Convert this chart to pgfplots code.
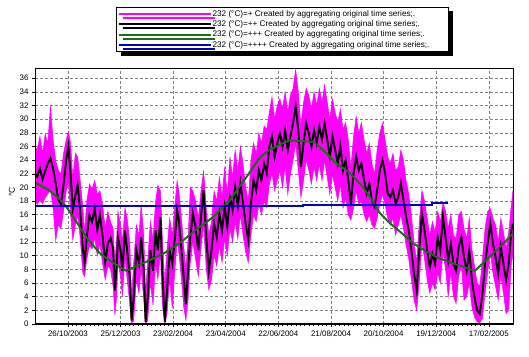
\documentclass[border=0pt]{standalone}
\usepackage{fontspec}
\setmainfont{Liberation Sans}
\usepackage{pgfplots}
\pgfplotsset{compat=1.18}
\usepackage{pgfplotstable}
\usepgfplotslibrary{fillbetween}
\usetikzlibrary{shadows}
\definecolor{dgreen}{RGB}{25,110,25}
\definecolor{dblue}{RGB}{0,0,190}
\definecolor{mag}{RGB}{255,0,255}

\pgfplotstableread{
d m up lo
-38 22.1 26.0 18.0
-35 21.6 25.5 17.5
-32 22.8 27.5 18.2
-29 21.2 25.0 17.6
-26 22.4 27.8 18.5
-23 23.5 26.5 19.0
-20 24.3 31.9 19.8
-17 22.8 27.0 17.0
-14 20.6 24.0 12.2
-11 18.2 22.5 14.5
-8 17.6 22.0 14.0
-5 20.5 25.0 16.5
-2 24.0 27.0 19.5
0.5 26.0 28.2 21.0
3 22.0 26.5 16.0
5.5 16.8 21.5 12.3
8.5 18.8 25.0 14.5
11 20.4 24.5 16.0
14 16.5 21.0 12.5
17 11.0 17.0 7.4
19 9.0 13.5 7.0
21.5 12.8 18.0 9.5
24.5 16.0 20.5 11.5
27.5 15.0 19.8 11.0
30.5 16.8 21.0 12.6
33.5 13.8 19.0 10.0
36.5 16.0 19.5 11.8
39.5 12.8 17.5 8.8
42.5 9.0 14.0 6.5
45.5 11.8 16.5 8.5
48.5 12.6 15.0 8.0
51.5 11.0 14.0 5.5
53.5 4.9 9.0 1.3
55.5 8.3 12.5 4.0
57 12.7 16.5 9.0
60 10.8 14.5 7.0
62 7.8 12.0 4.0
65 13.7 17.0 9.5
67.5 10.8 15.5 6.5
70.5 6.9 12.0 3.0
72.5 0.5 4.0 0
75 3.9 9.0 0.5
78 10.8 14.5 6.5
81 8.8 13.0 4.5
83.5 12.7 17.5 8.0
86.5 7.8 13.0 3.5
88.5 0.3 4.5 0
91 3.9 9.5 0.5
94 10.8 15.0 6.0
97 7.8 12.5 2.8
100 13.7 18.0 9.0
102.5 10.8 20.3 6.5
105.5 15.7 19.5 10.5
107.5 7.8 13.0 3.0
110.5 0.3 6.0 0
113 4.9 11.0 1.5
116 10.8 15.5 6.5
119 8.8 13.0 2.3
122 12.7 17.5 8.0
124.5 16.7 21.0 12.0
126.5 15.2 19.5 10.5
129.5 10.8 15.5 6.5
132 6.9 11.5 2.5
134.5 2.9 8.0 0.5
137 7.8 12.5 3.5
139.5 12.7 20.0 9.0
142.5 16.2 19.5 12.0
145.5 14.2 18.0 9.5
148.7 10.8 15.5 7.0
151.7 15.7 19.5 11.0
154.7 19.6 22.5 14.5
157.7 12.7 17.0 8.0
160.7 7.8 13.0 5.0
163.7 10.8 15.0 6.5
166.7 14.7 19.5 10.0
169.7 12.7 18.0 8.5
172.7 16.2 21.5 11.5
175.7 13.7 18.5 9.0
178.7 17.2 23.0 12.5
181.7 14.2 19.0 10.0
184.7 18.6 24.5 14.0
187.7 16.7 21.5 12.0
190.7 20.1 25.5 15.0
193.7 17.2 22.5 12.5
196.7 20.6 26.0 16.0
199.7 17.6 23.5 13.0
202.7 14.7 20.0 10.5
205.7 12.3 18.0 9.0
208.7 17.6 24.0 13.0
211.7 21.1 26.5 16.0
214.7 19.6 25.0 15.0
217.7 22.5 28.0 17.5
220.7 21.1 26.5 16.0
223.7 23.5 29.0 18.0
226.7 22.1 28.5 17.0
229.7 26.0 31.0 20.5
232.7 27.5 33.3 22.0
235.7 24.5 30.0 19.5
238.7 26.5 32.0 21.0
241.7 27.9 33.0 22.5
244.7 26.0 31.5 20.0
247.7 28.4 34.0 23.0
250.7 25.5 31.0 19.0
253.7 27.5 33.5 22.0
256.7 29.4 34.5 24.0
259.7 31.9 37.3 26.5
262.7 28.4 34.0 22.5
265.7 23.0 29.0 18.5
268.7 26.5 32.5 21.0
271.7 29.4 34.5 24.0
274.7 27.9 33.5 22.5
277.7 26.0 31.5 20.5
280.7 28.4 34.0 23.0
283.7 26.5 32.0 21.0
286.7 28.9 34.5 23.5
289.7 27.0 32.5 21.0
292.7 29.4 35.0 24.0
295.7 27.0 32.5 21.5
298.7 24.5 30.0 19.0
301.7 27.5 33.0 22.0
304.7 25.5 31.0 20.0
307.7 23.5 29.5 18.0
310.7 26.0 31.5 20.5
313.7 22.5 28.5 17.0
316.7 24.0 29.5 18.5
319.7 21.1 27.0 16.0
322.7 17.6 23.0 15.2
325.7 22.1 27.5 17.0
328.7 24.5 30.4 19.5
331.7 22.5 28.0 17.5
334.7 23.5 29.5 18.0
337.7 21.1 27.0 16.0
340.7 19.1 25.0 15.0
343.7 20.6 26.5 16.0
346.7 18.1 23.5 14.5
349.7 17.2 22.0 14.0
352.7 19.6 25.5 15.5
355.7 22.5 28.0 17.5
358.7 24.0 29.4 19.0
361.7 22.1 27.0 17.5
364.7 19.1 24.5 15.5
367.7 18.6 23.5 14.5
370.7 19.6 25.0 15.5
373.7 17.6 22.5 13.0
376.7 18.6 23.0 14.5
379.7 20.6 25.5 16.0
382.7 18.1 24.0 14.0
385.7 15.7 21.0 11.5
388.7 13.7 19.0 9.5
391.7 10.8 16.0 6.5
394.7 7.4 12.0 3.5
397.7 4.9 9.0 2.0
400.7 10.8 15.0 6.0
403.7 16.2 19.6 12.0
406.7 13.7 18.0 9.5
409.7 10.8 15.5 6.5
412.7 8.3 13.0 4.5
415.7 10.3 15.0 6.0
418.7 8.8 13.5 5.0
421.7 12.7 16.5 7.5
424.7 10.8 15.0 6.0
427.7 15.7 17.8 10.5
430.7 12.7 16.5 8.0
433.7 9.3 14.0 4.0
436.7 11.8 16.0 7.5
439.7 8.8 13.0 4.0
442.7 7.8 12.5 3.0
445.7 11.3 16.0 7.0
448.7 12.7 16.5 8.5
451.7 9.8 14.0 3.5
454.7 7.8 12.5 4.0
457.7 10.8 15.5 6.0
460.7 6.4 11.0 2.5
463.7 3.9 8.5 1.0
466.7 2.0 6.0 0.3
469.7 1.5 5.5 0.2
472.7 4.4 9.5 0.8
475.7 8.8 14.0 4.5
478.7 11.8 16.5 7.5
481.7 14.7 16.9 10.5
484.7 11.8 15.5 7.5
487.7 9.8 14.5 5.5
490.7 7.4 12.0 3.5
493.7 11.3 15.5 7.0
496.7 8.8 13.5 4.5
499.7 6.4 11.0 1.5
502.7 8.8 13.5 2.0
505.7 13.7 17.5 9.0
507.6 14.7 19.6 10.0
}\data

\begin{document}
\begin{tikzpicture}
\begin{axis}[
  at={(35bp,33bp)}, anchor=south west,
  scale only axis, width=478bp, height=256bp,
  xmin=-37.6, xmax=507.6, ymin=0, ymax=37.5,
  xtick={0,60,...,480},
  xticklabels={26/10/2003,25/12/2003,23/02/2004,23/04/2004,22/06/2004,21/08/2004,20/10/2004,19/12/2004,17/02/2005},
  ytick={0,2,...,36},
  grid=major,
  major grid style={gray, dash pattern=on 3bp off 2bp, line width=0.6bp},
  tick align=outside, major tick length=3bp,
  minor x tick num=11, minor tick length=2bp,
  tick pos=left,
  tick style={black, line width=0.6bp},
  ticklabel style={font=\fontsize{8}{9}\selectfont},
  /pgf/number format/assume math mode=true,
  ylabel={°C},
  ylabel style={at={(axis description cs:-0.048,0.516)}, anchor=center, font=\fontsize{8.5}{9}\selectfont},
  axis line style={line width=0.8bp},
  legend cell align=left,
  legend image code/.code={\draw[#1] (0bp,0bp) -- (92bp,0bp);},
  legend style={at={(axis description cs:0.866,1.238)}, anchor=north east,
    draw=black, line width=0.8bp, fill=white,
    font=\fontsize{8.2}{9}\selectfont,
    inner xsep=1bp, inner ysep=2bp, row sep=0.8bp,
    nodes={inner sep=1bp},
    general shadow={fill=black, shadow xshift=4bp, shadow yshift=-4bp}},
]
\addlegendimage{mag, line width=2bp}
\addlegendentry{232 (°C)=+ Created by aggregating original time series;.\hspace*{17bp}}
\addlegendimage{black, line width=2bp}
\addlegendentry{232 (°C)=++ Created by aggregating original time series;.\hspace*{17bp}}
\addlegendimage{dgreen, line width=2bp}
\addlegendentry{232 (°C)=+++ Created by aggregating original time series;.\hspace*{17bp}}
\addlegendimage{dblue, line width=2bp}
\addlegendentry{232 (°C)=++++ Created by aggregating original time series;.\hspace*{17bp}}

\addplot[name path=up, draw=mag, line width=0.5bp, forget plot] table[x=d, y=up]{\data};
\addplot[name path=lo, draw=mag, line width=0.5bp, forget plot] table[x=d, y=lo]{\data};
\addplot[mag, forget plot] fill between[of=up and lo];
\addplot[black, line width=1.9bp, forget plot] table[x=d, y=m]{\data};
\addplot[dgreen, line width=2bp, forget plot] coordinates {
(-37.6,20.7) (-24,19.8) (-12,18.6) (-2,17.2) (8,15.3) (21,12.7) (36,10.4) (51,9.0) (66.5,7.8) (89,9.1) (110,10.4) (128,11.9) (147,13.9) (166,15.7) (185,18.2) (204,21.6) (219,24.4) (230,25.5) (242,26.3) (253,26.9) (264,26.8) (280,26.7) (291,25.5) (306,23.5) (318,22.5) (333,20.6) (344.5,18.6) (356,16.2) (367,14.8) (379,13.5) (394,11.8) (409,10.6) (424,9.6) (439,8.9) (464,7.8) (477.5,9.4) (493,11.3) (507.6,13.3)
};
\addplot[dblue, line width=2bp, forget plot] coordinates {
(-37.6,17.35) (268,17.35) (268,17.45) (415,17.45) (415,17.7) (433.5,17.7)
};
\draw[black, line width=2bp] (rel axis cs:0,0) -- (rel axis cs:0,1);
\draw[black, line width=2bp] (rel axis cs:0,0) -- (rel axis cs:1,0);
\end{axis}
\pgfresetboundingbox
\path[use as bounding box] (0,0) rectangle (529bp,357bp);
\end{tikzpicture}
\end{document}
